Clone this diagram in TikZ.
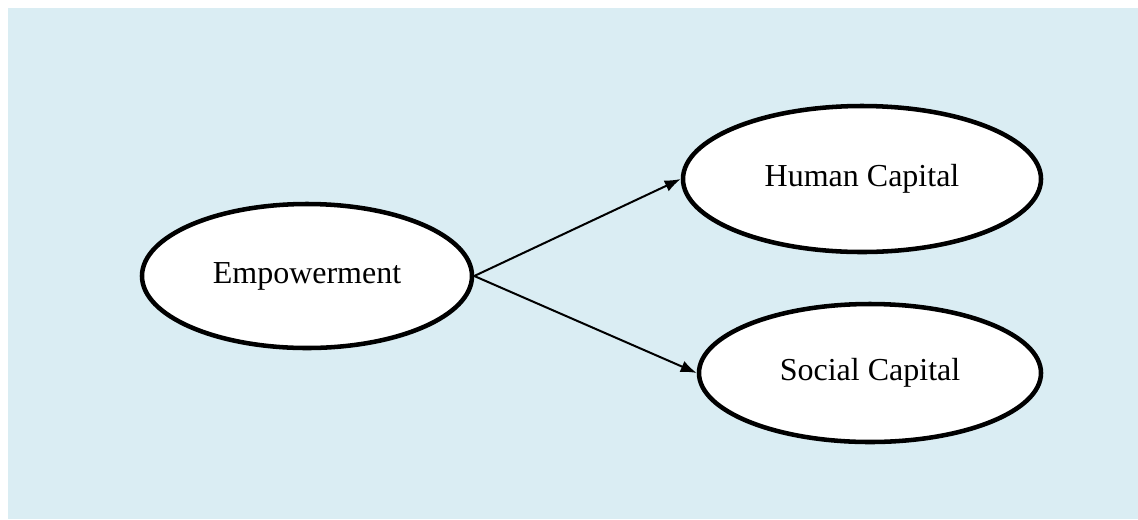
\documentclass[tikz,border=0pt]{standalone}
\usepackage{fontspec}
\setmainfont{Liberation Serif}
\usetikzlibrary{shapes.geometric}
\usetikzlibrary{arrows.meta}
\tikzset{>={Latex[length=12pt,width=9pt]}}
\definecolor{bgblue}{RGB}{218,237,243}
\tikzset{
  oval/.style={ellipse, draw=black, line width=3.4pt, fill=white, inner sep=0pt, font=\fontsize{24pt}{28pt}\selectfont},
  link/.style={->, line width=1.5pt}
}

\begin{document}
\begin{tikzpicture}[x=0.75pt, y=-0.75pt]
    \useasboundingbox (0,0) rectangle (1138,519);
    % background
    \fill[bgblue] (8,8) rectangle (1138,519);

    \node[oval, minimum width=247.5pt, minimum height=108pt] (E) at (307,276) {Empowerment};
    \node[oval, minimum width=268.5pt, minimum height=109.5pt] (H) at (862,179) {Human Capital};
    \node[oval, minimum width=256.5pt, minimum height=103.5pt] (S) at (870,373) {Social Capital};

    % E to H
    \draw[link] (E.east) -- (H.west);
    % E to S
    \draw[link] (E.east) -- (S.west);
\end{tikzpicture}
\end{document}
